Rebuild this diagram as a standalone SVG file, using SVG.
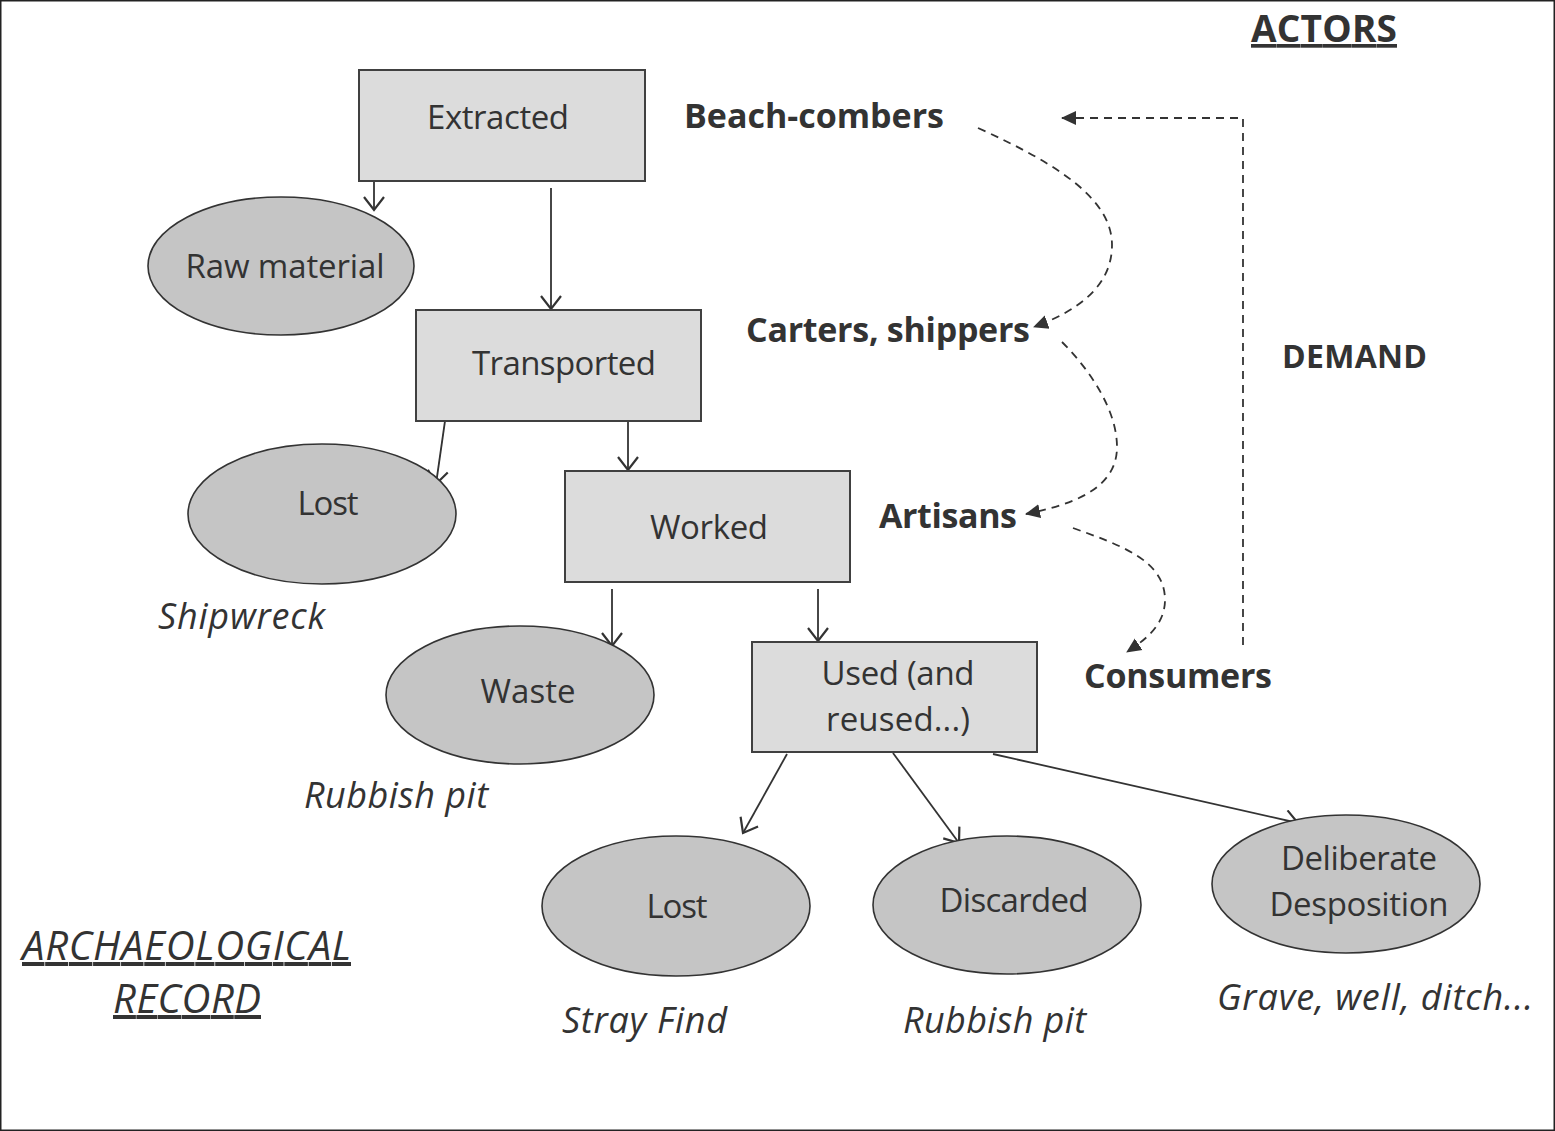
<svg xmlns="http://www.w3.org/2000/svg" width="1555" height="1131" viewBox="0 0 1555 1131">
<style>
.box{fill:#dcdcdc;stroke:#404040;stroke-width:2}
.ell{fill:#c5c5c5;stroke:#333;stroke-width:1.6}
.t{font-family:"Open Sans","Liberation Sans",sans-serif;font-size:33px;fill:#333;text-anchor:middle}
.i{font-family:"Open Sans","Liberation Sans",sans-serif;font-size:36px;font-style:italic;fill:#333}
.b{font-family:"Open Sans","Liberation Sans",sans-serif;font-size:34px;font-weight:bold;fill:#333}
.c{fill:none;stroke:#333;stroke-width:1.8}
.d{fill:none;stroke:#333;stroke-width:1.8;stroke-dasharray:8,6}
</style>
<defs>
<marker id="open" markerWidth="24" markerHeight="24" refX="14" refY="11" orient="auto" markerUnits="userSpaceOnUse">
<path d="M1,1 L14,11 L1,21" fill="none" stroke="#333" stroke-width="2.2"/>
</marker>
<marker id="fill" markerWidth="18" markerHeight="18" refX="14" refY="8" orient="auto" markerUnits="userSpaceOnUse">
<path d="M0,1 L15,8 L0,15 Z" fill="#333"/>
</marker>
</defs>
<rect x="0.5" y="0.5" width="1554" height="1130" fill="#fff" stroke="#222" stroke-width="2"/>

<g id="connectors">
<line class="c" x1="374" y1="181" x2="374" y2="210" marker-end="url(#open)"/>
<line class="c" x1="551" y1="188" x2="551" y2="309" marker-end="url(#open)"/>
<line class="c" x1="445" y1="421" x2="436" y2="484" marker-end="url(#open)"/>
<line class="c" x1="628" y1="421" x2="628" y2="470" marker-end="url(#open)"/>
<line class="c" x1="612" y1="589" x2="612" y2="646" marker-end="url(#open)"/>
<line class="c" x1="818" y1="589" x2="818" y2="641" marker-end="url(#open)"/>
<line class="c" x1="787" y1="754" x2="743" y2="833" marker-end="url(#open)"/>
<line class="c" x1="893" y1="753" x2="959" y2="843" marker-end="url(#open)"/>
<line class="c" x1="993" y1="754" x2="1298" y2="823" marker-end="url(#open)"/>
<path class="d" d="M1243,645 L1243,118 L1062,118" marker-end="url(#fill)"/>
<path class="d" d="M978,128 C1060,165 1112,200 1112,245 C1112,285 1080,310 1034,327" marker-end="url(#fill)"/>
<path class="d" d="M1062,342 C1090,370 1117,410 1117,447 C1117,490 1070,505 1026,514" marker-end="url(#fill)"/>
<path class="d" d="M1073,528 C1120,545 1165,560 1165,600 C1165,625 1145,640 1127,652" marker-end="url(#fill)"/>
</g>

<g id="extracted"><rect class="box" x="359" y="70" width="286" height="111"/><text class="t" x="498" y="129" textLength="142">Extracted</text></g>
<g id="raw-material"><ellipse class="ell" cx="281" cy="266" rx="133" ry="69"/><text class="t" x="285" y="278" textLength="199">Raw material</text></g>
<g id="transported"><rect class="box" x="416" y="310" width="285" height="111"/><text class="t" x="564" y="375" textLength="184">Transported</text></g>
<g id="lost1"><ellipse class="ell" cx="322" cy="514" rx="134" ry="70"/><text class="t" x="328" y="515" textLength="61">Lost</text></g>
<g id="worked"><rect class="box" x="565" y="471" width="285" height="111"/><text class="t" x="709" y="539" textLength="118">Worked</text></g>
<g id="waste"><ellipse class="ell" cx="520" cy="695" rx="134" ry="69"/><text class="t" x="528" y="703" textLength="95">Waste</text></g>
<g id="used"><rect class="box" x="752" y="642" width="285" height="110"/><text class="t" x="898" y="685" textLength="153">Used (and</text><text class="t" x="898" y="731" textLength="144">reused...)</text></g>
<g id="lost2"><ellipse class="ell" cx="676" cy="906" rx="134" ry="70"/><text class="t" x="677" y="918" textLength="61">Lost</text></g>
<g id="discarded"><ellipse class="ell" cx="1007" cy="905" rx="134" ry="69"/><text class="t" x="1014" y="912" textLength="149">Discarded</text></g>
<g id="deliberate"><ellipse class="ell" cx="1346" cy="884" rx="134" ry="69"/><text class="t" x="1359" y="870" textLength="156">Deliberate</text><text class="t" x="1359" y="916" textLength="179">Desposition</text></g>

<g id="labels">
<text class="i" x="158" y="629" textLength="167">Shipwreck</text>
<text class="i" x="304" y="808" textLength="184">Rubbish pit</text>
<text class="i" x="562" y="1033" textLength="165">Stray Find</text>
<text class="i" x="903" y="1033" textLength="183">Rubbish pit</text>
<text class="i" x="1217" y="1010" textLength="316">Grave, well, ditch...</text>
<text class="i" x="22" y="960" textLength="329" style="font-size:40px" text-decoration="underline">ARCHAEOLOGICAL</text>
<text class="i" x="113" y="1013" textLength="148" style="font-size:40px" text-decoration="underline">RECORD</text>
</g>
<g id="actors">
<text class="b" x="1251" y="42" textLength="146" style="font-size:37px" text-decoration="underline">ACTORS</text>
<text class="b" x="684" y="128" textLength="260">Beach-combers</text>
<text class="b" x="746" y="342" textLength="284">Carters, shippers</text>
<text class="b" x="1282" y="368" textLength="145" style="font-size:32px">DEMAND</text>
<text class="b" x="879" y="528" textLength="138">Artisans</text>
<text class="b" x="1084" y="688" textLength="188">Consumers</text>
</g>
</svg>
